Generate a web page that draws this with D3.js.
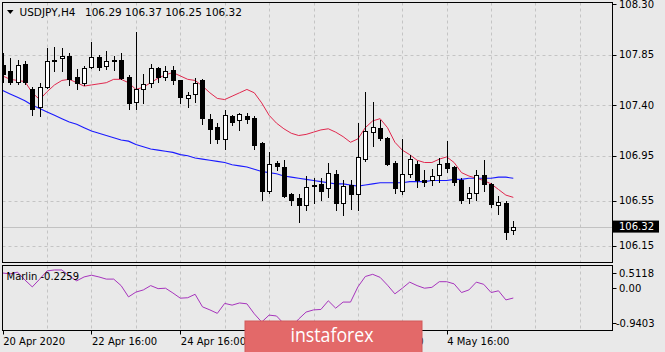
<!DOCTYPE html>
<html>
<head>
<meta charset="utf-8">
<script src="https://cdn.jsdelivr.net/npm/d3@7"></script>
<style>
  body { margin: 0; background: #e9e9e9; }
  svg { display: block; font-family: "DejaVu Sans", sans-serif; }
</style>
</head>
<body>
<svg id="chart" width="665" height="352"></svg>
<script>
// USDJPY H4 bars, 20 Apr 16:00 .. 6 May 04:00
const opens  = [107.76,107.70,107.61,107.77,107.54,107.38,107.56,107.80,107.82,107.84,
                107.65,107.60,107.74,107.83,107.75,107.80,107.80,107.65,107.43,107.54,
                107.60,107.73,107.65,107.71,107.62,107.46,107.50,107.62,107.28,107.21,
                107.10,107.30,107.27,107.30,107.29,107.06,106.64,106.89,106.85,106.61,
                106.57,106.51,106.69,106.70,106.66,106.79,106.53,106.69,106.61,106.92,
                107.16,107.20,107.11,106.89,106.64,106.79,106.88,106.73,106.73,106.78,
                106.89,106.85,106.73,106.57,106.62,106.78,106.70,106.51,106.53,106.29];
const highs  = [107.86,107.82,107.80,107.79,107.56,107.60,107.91,107.92,107.91,107.86,
                107.72,107.75,107.96,107.85,107.88,107.84,107.86,107.67,108.05,107.68,
                107.77,107.74,107.75,107.75,107.62,107.52,107.64,107.63,107.32,107.24,
                107.36,107.31,107.33,107.33,107.30,107.07,106.98,106.90,106.91,106.62,
                106.61,106.77,106.75,106.75,106.89,106.82,106.73,106.73,107.24,107.52,
                107.43,107.27,107.12,106.90,107.10,106.96,106.90,106.82,106.83,106.93,
                107.08,106.86,106.75,106.67,106.82,106.91,106.71,106.59,106.55,106.37];
const lows   = [107.61,107.59,107.59,107.59,107.31,107.30,107.55,107.70,107.70,107.58,
                107.54,107.58,107.73,107.71,107.72,107.71,107.63,107.37,107.37,107.42,
                107.56,107.61,107.62,107.59,107.42,107.38,107.43,107.23,107.06,107.06,
                107.01,107.22,107.18,107.24,107.01,106.56,106.62,106.82,106.58,106.51,
                106.36,106.47,106.53,106.56,106.58,106.47,106.42,106.48,106.47,106.90,
                107.04,107.09,106.87,106.62,106.61,106.76,106.67,106.68,106.69,106.72,
                106.81,106.69,106.53,106.53,106.56,106.64,106.49,106.43,106.21,106.25];
const closes = [107.68,107.61,107.76,107.61,107.37,107.56,107.79,107.79,107.84,107.63,
                107.60,107.73,107.83,107.74,107.79,107.79,107.64,107.42,107.54,107.59,
                107.73,107.65,107.70,107.62,107.47,107.49,107.60,107.29,107.19,107.10,
                107.31,107.25,107.32,107.28,107.05,106.64,106.88,106.86,106.59,106.56,
                106.51,106.67,106.68,106.64,106.80,106.53,106.68,106.61,106.94,107.17,
                107.21,107.11,106.88,106.66,106.79,106.92,106.73,106.72,106.77,106.88,
                106.84,106.72,106.56,106.62,106.78,106.70,106.52,106.54,106.27,106.32];

// moving averages
const maFast = [107.66,107.63,107.62,107.61,107.51,107.45,107.52,107.58,107.62,107.63,
                107.60,107.57,107.58,107.59,107.60,107.63,107.63,107.60,107.54,107.56,
                107.60,107.64,107.67,107.69,107.66,107.63,107.62,107.57,107.51,107.46,
                107.45,107.48,107.51,107.54,107.51,107.42,107.31,107.24,107.19,107.15,
                107.13,107.14,107.16,107.18,107.19,107.16,107.12,107.07,107.10,107.20,
                107.26,107.28,107.20,107.07,107.00,106.96,106.91,106.89,106.89,106.92,
                106.94,106.89,106.80,106.77,106.75,106.73,106.70,106.65,106.60,106.58];
const maSlow = [107.53,107.50,107.47,107.44,107.40,107.37,107.34,107.31,107.28,107.25,
                107.23,107.20,107.17,107.15,107.13,107.11,107.09,107.08,107.05,107.03,
                107.01,107.00,106.99,106.98,106.96,106.95,106.93,106.92,106.91,106.90,
                106.89,106.87,106.86,106.85,106.83,106.81,106.80,106.79,106.77,106.76,
                106.75,106.74,106.73,106.72,106.71,106.70,106.70,106.69,106.68,106.69,
                106.70,106.71,106.71,106.71,106.71,106.72,106.72,106.72,106.73,106.73,
                106.73,106.74,106.74,106.75,106.75,106.75,106.75,106.76,106.76,106.75];

// Marlin oscillator
const marlin = [0.35,0.33,0.37,0.19,0.03,0.21,0.40,0.42,0.42,0.28,
                0.17,0.26,0.30,0.26,0.21,0.21,0.06,-0.20,-0.09,-0.04,
                0.06,-0.01,0.00,-0.11,-0.23,-0.22,-0.14,-0.43,-0.50,-0.58,
                -0.35,-0.39,-0.34,-0.36,-0.59,-0.78,-0.62,-0.64,-0.82,-0.90,
                -0.71,-0.55,-0.50,-0.49,-0.29,-0.46,-0.32,-0.32,0.03,0.27,
                0.32,0.25,0.07,-0.13,0.00,0.14,0.06,0.00,0.02,0.15,
                0.15,0.10,-0.10,-0.04,0.14,0.09,-0.10,-0.06,-0.27,-0.2259];

const priceTicks = [108.30, 107.85, 107.40, 106.95, 106.55, 106.15];
const lastPrice = 106.32;
const marlinMax = 0.5118, marlinMin = -0.9403;
const timeLabels = ["20 Apr 2020", "22 Apr 16:00", "24 Apr 16:00", "28 Apr 16:00", "30 Apr 16:00", "4 May 16:00"];
const timeLabelBars = [0, 12, 24, 36, 48, 60];
const barsPerDay = 6;

const svg = d3.select("#chart");
const L = 2.5, R = 612.5;
const mainTop = 2.5, mainBottom = 262.5;
const subTop = 265.5, subBottom = 330.5;

// scales
const x = d3.scaleLinear().domain([0, closes.length - 1]).range([2.7, 513.3]);
const y = d3.scaleLinear().domain([106.15, 108.30]).range([245.7, 4]);
const ym = d3.scaleLinear().domain([marlinMin, marlinMax]).range([329, 266]);

const defs = svg.append("defs");
defs.append("clipPath").attr("id", "clipMain")
  .append("rect").attr("x", L).attr("y", mainTop).attr("width", R - L).attr("height", mainBottom - mainTop);
defs.append("clipPath").attr("id", "clipSub")
  .append("rect").attr("x", L).attr("y", subTop).attr("width", R - L).attr("height", subBottom - subTop);

// vertical grid positions (one per day)
const gridBars = d3.range(0, 100, barsPerDay).filter(i => i > 0 && x(i) < R);

// main panel grid
const gMain = svg.append("g").attr("clip-path", "url(#clipMain)");
gMain.selectAll(".vg").data(gridBars).join("line")
  .attr("x1", d => Math.round(x(d)) + 0.5).attr("x2", d => Math.round(x(d)) + 0.5)
  .attr("y1", mainTop).attr("y2", mainBottom)
  .attr("stroke", "#c4c4c4").attr("stroke-dasharray", "3,3");
gMain.selectAll(".hg").data(priceTicks.slice(1)).join("line")
  .attr("x1", L).attr("x2", R)
  .attr("y1", d => Math.round(y(d)) + 0.5).attr("y2", d => Math.round(y(d)) + 0.5)
  .attr("stroke", "#c4c4c4").attr("stroke-dasharray", "3,3");

// bid line
gMain.append("line")
  .attr("x1", L).attr("x2", R)
  .attr("y1", Math.round(y(lastPrice)) + 0.5).attr("y2", Math.round(y(lastPrice)) + 0.5)
  .attr("stroke", "#c2c2c2");

// moving averages
const line = d3.line().x((d, i) => x(i)).y(d => y(d));
gMain.append("path").datum(maSlow).attr("d", line)
  .attr("fill", "none").attr("stroke", "#1a1aff").attr("stroke-width", 1.1);
gMain.append("path").datum(maFast).attr("d", line)
  .attr("fill", "none").attr("stroke", "#e0284e").attr("stroke-width", 1);

// candles
const bars = d3.range(closes.length).map(i => ({
  i, o: opens[i], h: highs[i], l: lows[i], c: closes[i]
}));
const candle = gMain.selectAll(".candle").data(bars).join("g").attr("shape-rendering", "crispEdges");
candle.append("line")
  .attr("x1", d => Math.round(x(d.i)) + 0.5).attr("x2", d => Math.round(x(d.i)) + 0.5)
  .attr("y1", d => Math.round(y(d.h))).attr("y2", d => Math.round(y(d.l)) + 1)
  .attr("stroke", "#000");
candle.append("rect")
  .attr("x", d => Math.round(x(d.i)) - 2 + 0.5)
  .attr("y", d => Math.round(y(Math.max(d.o, d.c))) + 0.5)
  .attr("width", 4)
  .attr("height", d => Math.max(1, Math.round(y(Math.min(d.o, d.c))) - Math.round(y(Math.max(d.o, d.c)))))
  .attr("fill", d => d.c >= d.o ? "#fff" : "#000")
  .attr("stroke", "#000");

// main border
svg.append("rect").attr("x", L).attr("y", mainTop).attr("width", R - L).attr("height", mainBottom - mainTop)
  .attr("fill", "none").attr("stroke", "#000");

// price axis
const pAxis = svg.append("g");
pAxis.selectAll("line").data(priceTicks).join("line")
  .attr("x1", R).attr("x2", R + 4)
  .attr("y1", d => Math.round(y(d)) + 0.5).attr("y2", d => Math.round(y(d)) + 0.5)
  .attr("stroke", "#000");
pAxis.selectAll("text").data(priceTicks).join("text")
  .attr("x", 619).attr("y", d => y(d)).attr("dy", "0.36em")
  .attr("font-size", 10).attr("fill", "#000")
  .text(d => d.toFixed(2));
pAxis.append("rect")
  .attr("x", 613).attr("y", y(lastPrice) - 6).attr("width", 46).attr("height", 12)
  .attr("fill", "#000");
pAxis.append("text")
  .attr("x", 619).attr("y", y(lastPrice)).attr("dy", "0.36em")
  .attr("font-size", 10).attr("fill", "#fff")
  .text(lastPrice.toFixed(2));

// header
svg.append("path").attr("d", "M7,10L13.5,10L10.25,14Z").attr("fill", "#000");
svg.append("text").attr("x", 19.5).attr("y", 16).attr("font-size", 10.5).attr("fill", "#000")
  .text("USDJPY,H4");
svg.append("text").attr("x", 85).attr("y", 16).attr("font-size", 10.5).attr("fill", "#000")
  .text([opens, highs, lows, closes].map(a => a[a.length - 1].toFixed(2)).join(" "));

// sub panel
const gSub = svg.append("g").attr("clip-path", "url(#clipSub)");
gSub.selectAll(".vg").data(gridBars).join("line")
  .attr("x1", d => Math.round(x(d)) + 0.5).attr("x2", d => Math.round(x(d)) + 0.5)
  .attr("y1", subTop).attr("y2", subBottom)
  .attr("stroke", "#c4c4c4").attr("stroke-dasharray", "3,3");
gSub.append("path").datum(marlin)
  .attr("d", d3.line().x((d, i) => x(i)).y(d => ym(d)))
  .attr("fill", "none").attr("stroke", "#a634bc").attr("stroke-width", 1);
svg.append("rect").attr("x", L).attr("y", subTop).attr("width", R - L).attr("height", subBottom - subTop)
  .attr("fill", "none").attr("stroke", "#000");
svg.append("text").attr("x", 6.5).attr("y", 279.5).attr("font-size", 10).attr("fill", "#000")
  .text("Marlin " + marlin[marlin.length - 1].toFixed(4));

// marlin axis labels (max/min pulled inside the panel as the terminal does)
const mLabels = [
  { v: marlinMax, yy: ym(marlinMax) + 7, t: marlinMax.toFixed(4) },
  { v: 0, yy: ym(0), t: "0.00" },
  { v: marlinMin, yy: ym(marlinMin) - 6, t: marlinMin.toFixed(4) }
];
svg.selectAll(".mt").data(mLabels).join("line")
  .attr("x1", R).attr("x2", R + 4)
  .attr("y1", d => Math.round(d.yy) + 0.5).attr("y2", d => Math.round(d.yy) + 0.5)
  .attr("stroke", "#000");
svg.selectAll(".ml").data(mLabels).join("text")
  .attr("x", d => d.v < 0 ? 616 : 619).attr("y", d => d.yy).attr("dy", "0.36em")
  .attr("font-size", 10).attr("fill", "#000")
  .text(d => d.t);

// time axis
const tAxis = svg.append("g");
tAxis.selectAll("line").data(timeLabelBars).join("line")
  .attr("x1", d => Math.round(x(d)) + 0.5).attr("x2", d => Math.round(x(d)) + 0.5)
  .attr("y1", subBottom).attr("y2", subBottom + 4)
  .attr("stroke", "#000");
tAxis.selectAll("text").data(timeLabelBars).join("text")
  .attr("x", d => x(d) + 0.5).attr("y", 344.5)
  .attr("font-size", 10).attr("fill", "#000")
  .text((d, i) => timeLabels[i]);

// watermark
const wm = svg.append("g");
wm.append("rect").attr("x", 245).attr("y", 321).attr("width", 177).attr("height", 32)
  .attr("fill", "#e36969").attr("stroke", "#d25a5a");
wm.append("text").attr("x", 290.5).attr("y", 342).attr("font-family", "'Open Sans', sans-serif")
  .attr("font-size", 20).attr("fill", "#fff")
  .attr("textLength", 83).attr("lengthAdjust", "spacingAndGlyphs")
  .text("instaforex");
</script>
</body>
</html>
